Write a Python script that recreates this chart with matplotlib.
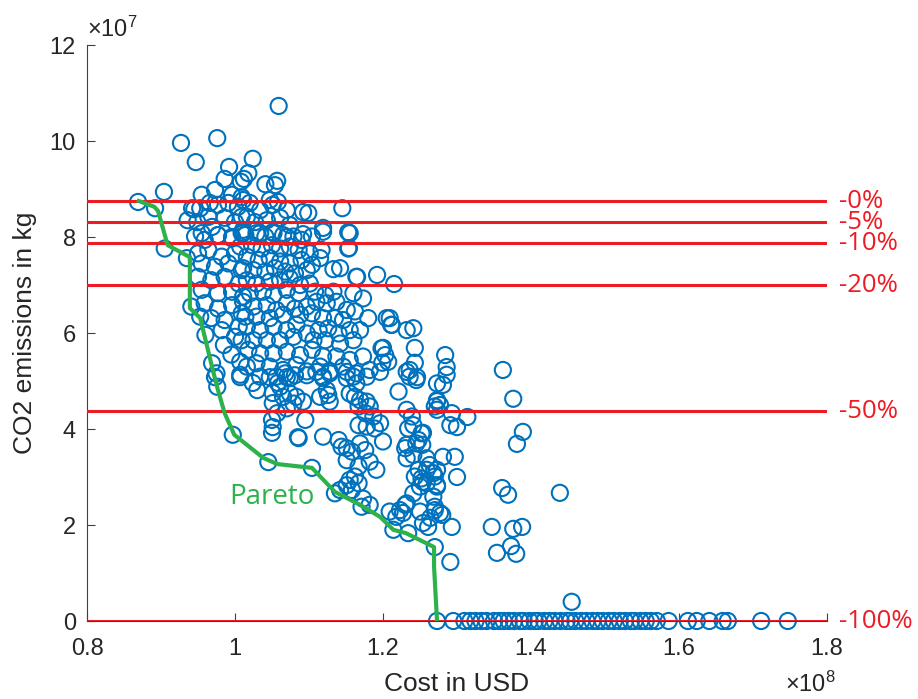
"""
Pareto scatter: cost vs CO2 emissions with reduction targets.
"""
import matplotlib
matplotlib.use("Agg")
import matplotlib.pyplot as plt

COLORS = {
    "blue":  "#0072BD",
    "red":   "#ED1C24",
    "green": "#2DB24B",
    "axis":  "#404040",
    "text":  "#262626",
}

plt.rcParams.update({
    "font.family": ["Liberation Sans", "DejaVu Sans"],
    "font.size": 17,
    "mathtext.fontset": "custom",
    "mathtext.rm": "Liberation Sans",
    "mathtext.it": "Liberation Sans",
})

# cost (x1e8 USD), emissions (x1e7 kg) of every design
cost = [
    # top outliers
    1.059, 0.927, 0.976, 0.947, 0.992, 1.024, 1.018, 1.012, 0.986, 1.008, 1.041, 1.057, 1.054,
    0.904, 0.869, 0.892, 0.945, 0.955, 0.973, 0.996,
    # upper band
    1.009, 0.942, 0.953, 0.966, 0.977, 0.991, 1.004, 0.936, 0.949, 0.964, 0.969, 0.986, 1.000,
    1.009, 0.955, 0.977, 0.996, 1.011, 1.011, 1.020, 1.034, 1.047, 1.051, 1.058, 1.070, 1.092,
    1.099, 1.145, 1.016, 1.027, 1.043, 1.061, 1.074, 1.119, 1.153, 1.011, 1.034, 1.051, 1.070,
    1.092,
    # left core
    0.946, 0.959, 0.977, 0.996, 1.009, 0.950, 0.964, 0.982, 1.000, 0.955, 0.973, 0.991, 1.009,
    0.950, 0.968, 0.986, 1.005, 0.955, 0.977, 0.996, 1.011, 0.959, 0.977, 0.996, 1.009, 0.968,
    0.986, 1.005, 0.982, 1.000, 1.009, 0.941, 0.953, 0.969, 0.975, 1.007, 1.007, 0.935, 0.905,
    0.960, 0.985, 0.995,
    # central core
    1.014, 1.029, 1.041, 1.052, 1.065, 1.079, 1.090, 1.104, 1.119, 1.155, 1.007, 1.023, 1.036,
    1.050, 1.061, 1.074, 1.086, 1.101, 1.117, 1.153, 1.016, 1.032, 1.047, 1.061, 1.074, 1.090,
    1.104, 1.115, 1.011, 1.025, 1.041, 1.054, 1.068, 1.081, 1.097, 1.133, 1.164, 1.192, 1.016,
    1.029, 1.047, 1.061, 1.074, 1.088, 1.101, 1.020, 1.038, 1.052, 1.070, 1.086, 1.108, 1.122,
    1.133, 1.160, 1.173, 1.215, 1.011, 1.025, 1.043, 1.056, 1.070, 1.081, 1.097, 1.110, 1.124,
    1.137, 1.151, 1.162, 1.180, 1.205, 1.212, 1.014, 1.029, 1.047, 1.065, 1.088, 1.104, 1.119,
    1.135, 1.146, 1.016, 1.034, 1.052, 1.070, 1.083, 1.097, 1.113, 1.126, 1.140, 1.155, 1.169,
    1.025, 1.043, 1.061, 1.079, 1.106, 1.122, 1.142, 1.160, 1.198, 1.203, 1.018, 1.034, 1.052,
    1.070, 1.088, 1.104, 1.119, 1.137, 1.155, 1.173, 1.016, 1.029, 1.047, 1.065, 1.083, 1.097,
    1.115, 1.128, 1.146, 1.164, 1.182, 1.034, 1.056, 1.074, 1.119, 1.151, 1.154, 1.142, 1.165,
    # right of core
    1.209, 1.211, 1.232, 1.241, 1.200, 1.207, 1.199, 1.243, 1.243, 1.236, 1.284, 1.286, 1.286,
    1.362, 1.246,
    # lower middle
    0.973, 0.976, 1.007, 1.024, 1.030, 1.047, 1.058, 1.070, 1.051, 1.065, 1.051, 1.057, 1.050,
    1.051, 1.050, 0.997, 1.045,
    1.068, 1.081, 1.097, 1.110, 1.119, 1.128, 1.151, 1.160, 1.164, 1.178, 1.196, 1.232, 1.236,
    1.245, 1.273, 1.061, 1.074, 1.083, 1.079, 1.092, 1.115, 1.126, 1.128, 1.124, 1.155, 1.162,
    1.169, 1.167, 1.178, 1.182, 1.176, 1.187, 1.196, 1.167, 1.178, 1.189, 1.221, 1.273, 1.270,
    1.232, 1.239, 1.241, 1.234, 1.252, 1.248, 1.232, 1.070, 1.095, 1.086, 1.119, 1.140, 1.144,
    1.151, 1.158, 1.169, 1.176, 1.200, 1.151, 1.182, 1.191, 1.167, 1.162, 1.155, 1.151, 1.167,
    1.158, 1.142, 1.135, 1.173, 1.182, 1.171, 1.104, 1.230, 1.245, 1.241, 1.232, 1.259, 1.263,
    1.248, 1.243, 1.252, 1.259, 1.250, 1.241, 1.273, 1.270, 1.273, 1.268, 1.232, 1.223, 1.250,
    1.270, 1.218, 1.209, 1.085,
    # lower right
    1.281, 1.376, 1.273, 1.277, 1.273, 1.293, 1.314, 1.291, 1.300, 1.389, 1.381, 1.254, 1.253,
    1.281, 1.297, 1.259, 1.268, 1.300, 1.273, 1.254, 1.361, 1.369, 1.439, 1.270, 1.280, 1.264,
    1.254, 1.293, 1.347, 1.376, 1.388, 1.230, 1.227, 1.277, 1.261, 1.214, 1.234, 1.270, 1.291,
    1.354, 1.373, 1.380, 1.455,
    # zero-emission designs
    1.273, 1.295, 1.310, 1.318, 1.325, 1.333, 1.340, 1.350, 1.357, 1.363, 1.370, 1.377, 1.385,
    1.390, 1.398, 1.405, 1.410, 1.418, 1.425, 1.432, 1.440, 1.448, 1.453, 1.460, 1.468, 1.475,
    1.483, 1.490, 1.497, 1.505, 1.512, 1.520, 1.527, 1.535, 1.540, 1.548, 1.555, 1.562, 1.570,
    1.586, 1.612, 1.624, 1.641, 1.659, 1.666, 1.711, 1.747,
]
emissions = [
    10.73, 9.96, 10.06, 9.56, 9.46, 9.63, 9.33, 9.21, 9.21, 9.15, 9.10, 9.17, 9.08,
    8.94, 8.73, 8.60, 8.58, 8.88, 8.98, 8.88,
    8.83, 8.60, 8.60, 8.71, 8.67, 8.71, 8.63, 8.35, 8.31, 8.42, 8.21, 8.40, 8.31,
    8.42, 8.08, 8.04, 8.00, 8.08, 8.77, 8.71, 8.56, 8.77, 8.67, 8.73, 8.56, 8.52,
    8.50, 8.60, 8.42, 8.31, 8.35, 8.40, 8.25, 8.19, 8.10, 8.15, 8.08, 8.10, 8.00,
    8.06,
    8.01, 7.94, 8.04, 7.97, 8.08, 7.66, 7.73, 7.59, 7.66, 7.45, 7.38, 7.45, 7.31,
    7.17, 7.10, 7.17, 7.03, 6.90, 6.83, 6.86, 6.76, 6.62, 6.51, 6.58, 6.41, 6.31,
    6.27, 6.13, 6.06, 5.92, 5.85, 6.55, 6.34, 5.37, 5.16, 5.40, 5.13, 7.56, 7.76,
    5.96, 5.75, 5.55,
    8.04, 8.08, 8.01, 8.08, 8.04, 8.01, 7.94, 8.01, 8.11, 8.08, 7.80, 7.83, 7.76,
    7.83, 7.76, 7.80, 7.73, 7.66, 7.73, 7.76, 7.59, 7.52, 7.56, 7.49, 7.45, 7.52,
    7.42, 7.56, 7.35, 7.31, 7.28, 7.35, 7.28, 7.24, 7.31, 7.33, 7.17, 7.21, 7.10,
    7.03, 7.07, 7.10, 7.14, 7.00, 7.03, 6.83, 6.86, 6.79, 6.90, 6.83, 6.86, 6.79,
    6.86, 6.83, 6.72, 7.02, 6.65, 6.55, 6.58, 6.48, 6.62, 6.51, 6.55, 6.65, 6.62,
    6.65, 6.48, 6.45, 6.31, 6.31, 6.17, 6.34, 6.34, 6.31, 6.38, 6.38, 6.41, 6.31,
    6.31, 6.27, 6.13, 6.06, 6.13, 6.06, 6.17, 5.99, 6.06, 6.10, 5.99, 6.06, 6.06,
    5.85, 5.85, 5.85, 5.92, 5.85, 5.85, 5.78, 5.85, 5.68, 5.54, 5.65, 5.58, 5.58,
    5.61, 5.54, 5.65, 5.51, 5.51, 5.44, 5.51, 5.30, 5.37, 5.30, 5.23, 5.33, 5.20,
    5.30, 5.20, 5.30, 5.16, 5.23, 5.09, 5.09, 5.06, 5.06, 5.06, 7.77, 7.35, 7.17,
    6.31, 6.17, 6.06, 6.10, 5.69, 5.40, 5.38, 5.69, 5.38, 5.23, 5.54, 5.29, 5.13,
    5.23, 5.08,
    5.08, 4.88, 5.08, 4.96, 4.81, 5.08, 4.96, 5.08, 4.75, 4.67, 4.54, 4.33, 4.19,
    4.04, 3.92, 3.88, 3.31,
    5.16, 5.12, 5.12, 5.19, 5.09, 5.16, 5.19, 5.09, 4.95, 5.09, 5.19, 5.19, 5.09,
    5.02, 4.95, 4.88, 4.74, 4.67, 4.53, 4.57, 4.67, 4.71, 4.57, 4.81, 4.74, 4.67,
    4.60, 4.47, 4.57, 4.47, 4.33, 4.26, 4.12, 4.08, 4.05, 4.01, 4.78, 4.60, 4.47,
    4.40, 4.26, 4.08, 4.01, 3.91, 3.77, 3.67, 4.43, 4.19, 3.81, 3.84, 3.77, 3.63,
    3.60, 3.53, 3.70, 3.56, 3.74, 3.35, 3.32, 3.15, 3.22, 3.01, 2.94, 2.83, 2.87,
    2.73, 2.73, 2.66, 2.55, 2.42, 2.38, 3.19, 3.60, 3.70, 3.46, 3.39, 3.39, 3.25,
    3.15, 3.01, 2.97, 2.87, 2.80, 2.66, 3.15, 3.01, 2.80, 2.59, 2.45, 2.31, 2.28,
    2.38, 2.17, 2.28, 3.83,
    4.92, 4.63, 4.58, 4.50, 4.40, 4.33, 4.25, 4.08, 4.04, 3.94, 3.69, 3.92, 3.67,
    3.42, 3.42, 3.15, 3.08, 3.00, 2.83, 2.90, 2.77, 2.63, 2.67, 2.31, 2.21, 2.15,
    2.04, 1.96, 1.96, 1.92, 1.96, 2.42, 2.25, 2.25, 1.96, 1.90, 1.83, 1.54, 1.23,
    1.42, 1.56, 1.40, 0.40,
] + [0.0] * 47

# Pareto front
pareto_cost = [0.870, 0.891, 0.896, 0.909, 0.939, 0.939, 0.953, 0.970, 0.977, 0.986, 0.999,
               1.038, 1.057, 1.104, 1.135, 1.169, 1.196, 1.214, 1.231, 1.269, 1.269, 1.273]
pareto_em = [8.75, 8.63, 8.54, 7.83, 7.58, 6.52, 6.31, 5.23, 4.81, 4.33, 3.88,
             3.40, 3.27, 3.19, 2.69, 2.42, 2.17, 1.90, 1.83, 1.54, 1.13, 0.0]

# reduction targets
target_levels = [8.75, 8.31, 7.875, 7.0, 4.375, 0.0]
target_labels = ["-0%", "-5%", "-10%", "-20%", "-50%", "-100%"]

fig = plt.figure(figsize=(9.18, 6.99), dpi=100)
ax = fig.add_axes([87 / 918, 1 - 621 / 699, 740 / 918, 576 / 699])

ax.scatter(cost, emissions, s=135, facecolors="none", edgecolors=COLORS["blue"],
           linewidths=1.5, zorder=2, clip_on=False)

for lvl, lab in zip(target_levels, target_labels):
    ax.axhline(lvl, color=COLORS["red"], lw=2.2, zorder=3)
    ax.text(1.016, lvl, lab, transform=ax.get_yaxis_transform(), color=COLORS["red"],
            fontsize=18.5, family=["Open Sans", "DejaVu Sans"], ha="left", va="center",
            clip_on=False)

ax.plot(pareto_cost, pareto_em, color=COLORS["green"], lw=3, zorder=4)
ax.text(1.05, 2.58, "Pareto", color=COLORS["green"], fontsize=20,
        family=["Open Sans", "DejaVu Sans"], ha="center", va="center")

ax.set_xlim(0.8, 1.8)
ax.set_ylim(0, 12)
ax.set_xticks([0.8, 1.0, 1.2, 1.4, 1.6, 1.8])
ax.set_xticklabels(["0.8", "1", "1.2", "1.4", "1.6", "1.8"])
ax.set_yticks(range(0, 13, 2))
ax.tick_params(direction="in", length=6, width=0.8, colors=COLORS["axis"],
               labelcolor=COLORS["text"], labelsize=17)
ax.tick_params(axis="x", pad=12)
ax.tick_params(axis="y", pad=8)
for side in ("top", "right"):
    ax.spines[side].set_visible(False)
for side in ("left", "bottom"):
    ax.spines[side].set_color(COLORS["axis"])
    ax.spines[side].set_linewidth(0.8)

ax.set_xlabel("Cost in USD", color=COLORS["text"], fontsize=19, labelpad=9)
ax.set_ylabel("CO2 emissions in kg", color=COLORS["text"], fontsize=19, labelpad=9)

ax.text(0.0, 1.005, r"$\times10^{7}$", transform=ax.transAxes, ha="left", va="bottom",
        fontsize=17, color=COLORS["text"])
ax.text(1.012, -0.088, r"$\times10^{8}$", transform=ax.transAxes, ha="right", va="top",
        fontsize=17, color=COLORS["text"])

plt.savefig("out.png", dpi=100)
plt.close(fig)
